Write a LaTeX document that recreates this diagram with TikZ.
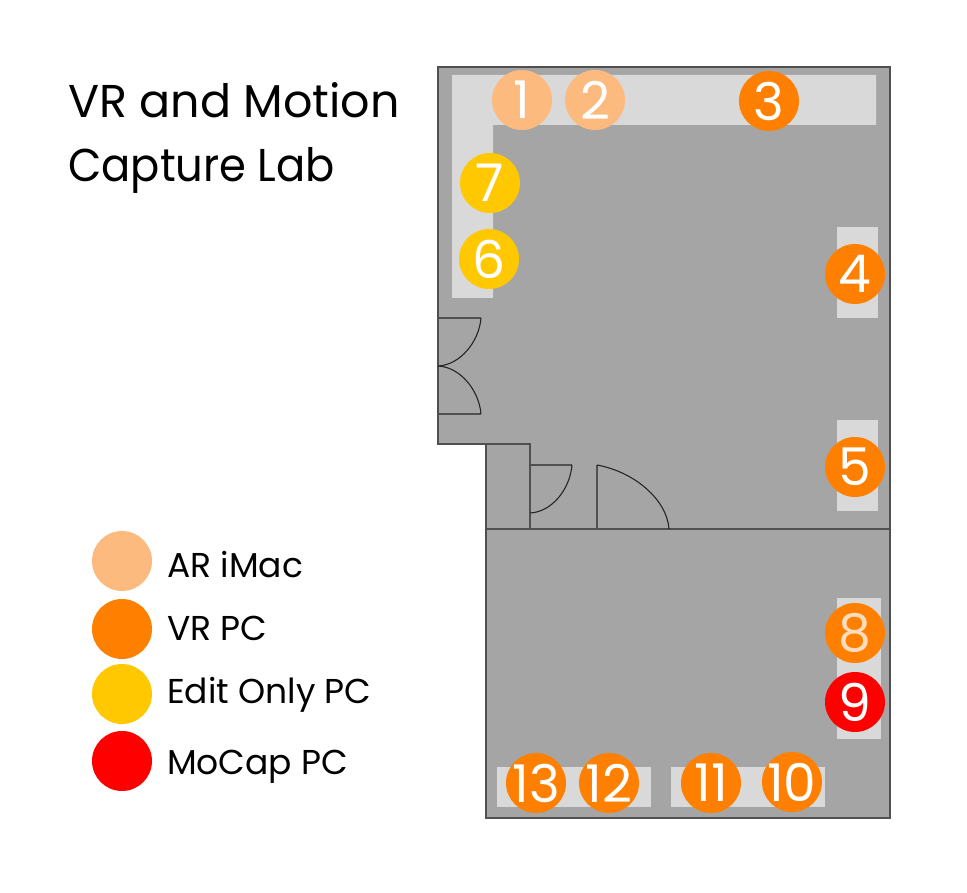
\documentclass[tikz,border=0pt]{standalone}
\usepackage{fontspec}
\setmainfont{Poppins}
\definecolor{roomgray}{HTML}{A5A5A5}
\definecolor{tablegray}{HTML}{D9D9D9}
\definecolor{wallgray}{HTML}{505050}
\definecolor{arimac}{HTML}{FDBA7E}
\definecolor{vrpc}{HTML}{FF8000}
\definecolor{editpc}{HTML}{FFC800}
\definecolor{mocap}{HTML}{FF0000}
\definecolor{peach}{HTML}{FDDDBB}
\tikzset{
  room/.style={fill=roomgray,draw=wallgray,line width=1.3pt},
  wall/.style={draw=wallgray,line width=1.3pt},
  doorarc/.style={draw=black!85,line width=1.1pt},
  tabletop/.style={fill=tablegray,draw=none},
  seat/.style={circle,minimum size=60pt,inner sep=0pt,text=white},
  seatlabel/.style={inner sep=0pt,text=white,font=\fontsize{52}{52}\selectfont},
  legendlabel/.style={anchor=base west,inner sep=0pt,font=\fontsize{34.5}{34.5}\selectfont},
  titletext/.style={anchor=base west,inner sep=0pt,font=\fontsize{46}{46}\selectfont}
}
\begin{document}
\begin{tikzpicture}[x=1pt,y=-1pt]
\useasboundingbox (0,0) rectangle (967,893);
% rooms
\draw[room] (438,67) -- (890,67) -- (890,818) -- (486,818) -- (486,444) -- (438,444) -- cycle;
\draw[wall] (486,529) -- (890,529);
\draw[wall] (486,444) -- (530,444) -- (530,529);
% tables
\fill[tabletop] (452,75) -- (876,75) -- (876,125) -- (493,125) -- (493,298) -- (452,298) -- cycle;
\fill[tabletop] (837,227) rectangle (878,318);
\fill[tabletop] (837,420) rectangle (878,511);
\fill[tabletop] (837,598) rectangle (881,739);
\fill[tabletop] (497,767) rectangle (651,807);
\fill[tabletop] (671,767) rectangle (825,807);
% doors
\draw[wall] (438,318) -- (481,318);
\draw[doorarc] (481,318) .. controls (479,342) and (460,365) .. (438,366);
\draw[wall] (438,414) -- (481,414);
\draw[doorarc] (481,414) .. controls (479,390) and (460,367) .. (438,366);
\draw[wall] (530,465) -- (572,465);
\draw[doorarc] (572,465) .. controls (570,489) and (552,512) .. (530,513);
\draw[wall] (597,529) -- (597,465);
\draw[doorarc] (597,465) .. controls (635,472) and (667,500) .. (669,529);
% seats
\node[seat,fill=arimac] (s1) at (522,100) {};
\node[seat,fill=arimac] (s2) at (595,100) {};
\node[seat,fill=vrpc] (s3) at (769,101) {};
\node[seat,fill=vrpc] (s4) at (855,274) {};
\node[seat,fill=vrpc] (s5) at (855,467) {};
\node[seat,fill=editpc] (s6) at (489,259) {};
\node[seat,fill=editpc] (s7) at (490,183) {};
\node[seat,fill=vrpc] (s8) at (855,633) {};
\node[seat,fill=mocap] (s9) at (855,702) {};
\node[seat,fill=vrpc] (s10) at (792,782) {};
\node[seat,fill=vrpc] (s11) at (711,783) {};
\node[seat,fill=vrpc] (s12) at (609,783) {};
\node[seat,fill=vrpc] (s13) at (536,783) {};
\node[seatlabel] (n1) at (s1) {1};
\node[seatlabel] (n2) at (s2) {2};
\node[seatlabel] (n3) at (s3) {3};
\node[seatlabel] (n4) at (s4) {4};
\node[seatlabel] (n5) at (s5) {5};
\node[seatlabel] (n6) at (s6) {6};
\node[seatlabel] (n7) at (s7) {7};
\node[seatlabel,text=peach] (n8) at (s8) {8};
\node[seatlabel] (n9) at (s9) {9};
\node[seatlabel] (n10) at (s10) {10};
\node[seatlabel] (n11) at (s11) {11};
\node[seatlabel] (n12) at (s12) {12};
\node[seatlabel] (n13) at (s13) {13};
% legend
\node[seat,fill=arimac] (l1) at (122,561) {};
\node[seat,fill=vrpc] (l2) at (122,629) {};
\node[seat,fill=editpc] (l3) at (122,694) {};
\node[seat,fill=mocap] (l4) at (122,761) {};
\node[legendlabel] (t1) at (167,577) {AR iMac};
\node[legendlabel] (t2) at (167,640) {VR PC};
\node[legendlabel] (t3) at (167,703) {Edit Only PC};
\node[legendlabel] (t4) at (167,774) {MoCap PC};
% title
\node[titletext] (title1) at (68,118) {VR and Motion};
\node[titletext,xscale=0.94,transform shape] (title2) at (68,182) {Capture Lab};
\end{tikzpicture}
\end{document}
